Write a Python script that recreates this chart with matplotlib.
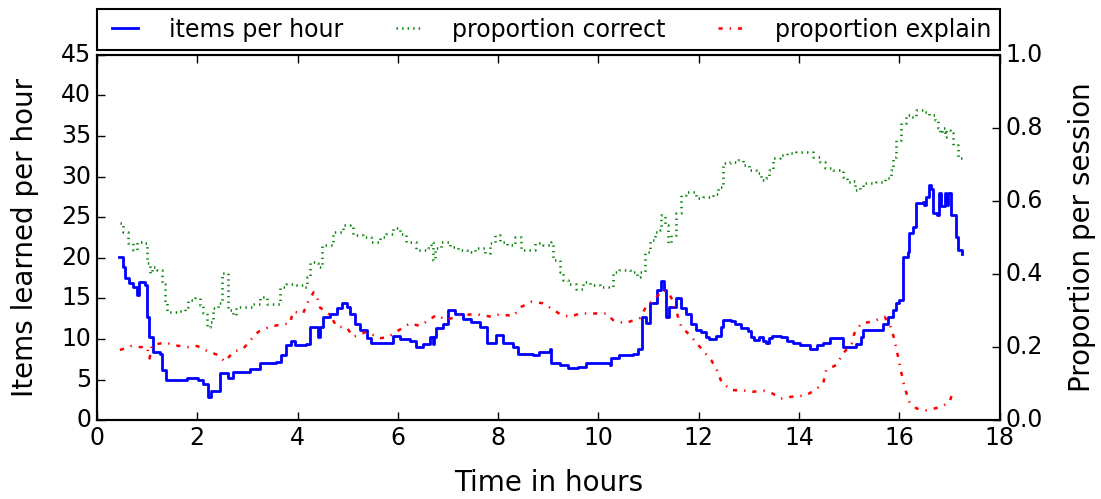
import matplotlib
matplotlib.use("Agg")
import matplotlib.pyplot as plt

# items learned per hour (left axis)
items_t = [0.44, 0.52, 0.56, 0.64, 0.72, 0.80, 0.84, 0.96, 0.99, 1.04, 1.12, 1.26, 1.29, 1.375,
           1.79, 2.02, 2.12, 2.22, 2.28, 2.42, 2.45, 2.62, 2.72, 3.05, 3.25, 3.58, 3.68, 3.78,
           3.88, 3.94, 4.17, 4.25, 4.41, 4.45, 4.51, 4.65, 4.78, 4.88, 4.98, 5.04, 5.14, 5.24,
           5.38, 5.47, 5.90, 6.04, 6.24, 6.37, 6.50, 6.64, 6.70, 6.73, 6.77, 6.90, 7.00, 7.14,
           7.30, 7.46, 7.63, 7.77, 7.96, 8.10, 8.30, 8.40, 8.70, 8.82, 9.03, 9.06, 9.23, 9.39,
           9.60, 9.76, 10.23, 10.26, 10.40, 10.69, 10.79, 10.86, 10.95, 11.02, 11.16, 11.25,
           11.30, 11.35, 11.41, 11.55, 11.65, 11.75, 11.85, 11.95, 12.05, 12.15, 12.20, 12.35,
           12.45, 12.48, 12.65, 12.72, 12.85, 12.98, 13.05, 13.11, 13.21, 13.28, 13.34, 13.40,
           13.47, 13.64, 13.75, 13.88, 14.01, 14.21, 14.35, 14.48, 14.61, 14.88, 15.14, 15.24,
           15.27, 15.67, 15.77, 15.87, 15.94, 16.00, 16.07, 16.17, 16.20, 16.27, 16.34, 16.47,
           16.50, 16.54, 16.59, 16.63, 16.67, 16.74, 16.79, 16.83, 16.90, 16.93, 16.96, 17.03,
           17.13, 17.17, 17.24]
items_v = [20.1, 18.9, 17.5, 16.9, 16.4, 15.4, 17.0, 16.6, 12.7, 10.3, 8.4, 8.2, 6.2, 4.9,
           5.2, 5.0, 4.5, 2.9, 3.6, 3.6, 5.8, 5.2, 5.9, 6.3, 7.0, 7.2, 8.0, 9.2,
           9.8, 9.3, 9.4, 11.5, 10.3, 11.5, 12.7, 13.1, 13.8, 14.4, 14.0, 13.1, 11.9, 11.1,
           10.1, 9.5, 10.4, 10.0, 9.7, 9.0, 9.4, 10.3, 9.4, 10.3, 11.3, 11.9, 13.6, 13.1,
           12.5, 12.1, 11.5, 9.5, 10.5, 9.5, 9.0, 8.2, 8.0, 8.4, 8.8, 7.0, 6.8, 6.4,
           6.5, 7.0, 6.8, 7.6, 8.0, 8.2, 8.8, 12.7, 12.0, 14.4, 16.0, 17.1,
           16.0, 12.7, 14.0, 15.0, 13.8, 13.1, 11.9, 11.1, 10.9, 10.3, 10.0, 10.4,
           11.5, 12.4, 12.2, 11.9, 11.3, 11.0, 10.3, 9.9, 10.3, 9.7, 9.5, 10.1,
           10.4, 10.3, 9.7, 9.5, 9.2, 8.8, 9.2, 9.5, 10.1, 9.0, 9.4, 10.3,
           11.1, 11.9, 12.7, 13.6, 14.4, 14.8, 20.1, 20.7, 23.0, 23.8, 26.7, 26.9,
           26.5, 27.5, 29.0, 28.5, 25.5, 25.3, 28.0, 26.4, 28.0, 26.5, 28.0, 25.3,
           22.6, 21.0, 20.5]

# proportion correct (right axis)
correct_t = [0.46, 0.52, 0.62, 0.72, 0.79, 0.90, 0.99, 1.06, 1.10, 1.20, 1.29, 1.36, 1.39, 1.59,
             1.75, 1.82, 1.96, 2.05, 2.12, 2.19, 2.25, 2.32, 2.42, 2.49, 2.62, 2.72, 2.78, 3.10,
             3.25, 3.39, 3.65, 3.78, 3.92, 4.11, 4.18, 4.25, 4.34, 4.41, 4.48, 4.58, 4.71, 4.91,
             5.04, 5.11, 5.31, 5.47, 5.64, 5.77, 5.91, 6.04, 6.17, 6.37, 6.60, 6.67, 6.71, 6.74,
             6.87, 7.04, 7.20, 7.37, 7.54, 7.73, 7.83, 7.93, 8.03, 8.17, 8.33, 8.46, 8.73, 8.90,
             9.06, 9.09, 9.23, 9.29, 9.39, 9.56, 9.69, 9.83, 10.03, 10.29, 10.40, 10.63, 10.76,
             10.82, 10.92, 11.02, 11.12, 11.22, 11.25, 11.32, 11.39, 11.45, 11.55, 11.65, 11.75,
             11.95, 12.09, 12.28, 12.38, 12.48, 12.62, 12.78, 12.88, 13.01, 13.14, 13.25, 13.34,
             13.41, 13.48, 13.61, 13.75, 13.94, 14.14, 14.28, 14.41, 14.51, 14.68, 14.88, 14.95,
             15.05, 15.12, 15.22, 15.27, 15.54, 15.71, 15.83, 15.87, 15.94, 16.04, 16.14, 16.24,
             16.34, 16.47, 16.60, 16.70, 16.77, 16.81, 16.84, 16.90, 16.93, 17.00, 17.07, 17.17,
             17.24]
correct_v = [0.539, 0.516, 0.484, 0.466, 0.489, 0.484, 0.429, 0.402, 0.420, 0.410, 0.374, 0.320, 0.297, 0.300,
             0.310, 0.329, 0.334, 0.315, 0.292, 0.256, 0.270, 0.306, 0.320, 0.402, 0.301, 0.288, 0.310, 0.319,
             0.338, 0.319, 0.365, 0.374, 0.370, 0.365, 0.393, 0.434, 0.430, 0.420, 0.479, 0.480, 0.516, 0.534,
             0.530, 0.507, 0.502, 0.489, 0.502, 0.511, 0.525, 0.511, 0.489, 0.466, 0.470, 0.489, 0.438, 0.470,
             0.489, 0.475, 0.466, 0.461, 0.470, 0.457, 0.484, 0.507, 0.489, 0.480, 0.502, 0.466, 0.484, 0.480,
             0.489, 0.438, 0.406, 0.384, 0.374, 0.360, 0.379, 0.370, 0.365, 0.406, 0.411, 0.406, 0.393,
             0.406, 0.461, 0.493, 0.516, 0.520, 0.562, 0.534, 0.484, 0.507, 0.566, 0.616, 0.626,
             0.607, 0.610, 0.620, 0.639, 0.703, 0.708, 0.712, 0.699, 0.685, 0.676, 0.657, 0.662,
             0.685, 0.717, 0.726, 0.731, 0.735, 0.733, 0.721, 0.708, 0.689, 0.685, 0.667, 0.653,
             0.655, 0.630, 0.639, 0.648, 0.653, 0.662, 0.685, 0.721, 0.767, 0.813, 0.836, 0.831,
             0.849, 0.845, 0.836, 0.822, 0.799, 0.785, 0.800, 0.776, 0.794, 0.785, 0.753, 0.717,
             0.726]

# proportion explain (right axis)
explain_t = [0.46, 0.69, 0.86, 1.00, 1.05, 1.10, 1.36, 1.55, 1.80, 2.00, 2.15, 2.42, 2.55, 2.72,
             2.92, 3.12, 3.22, 3.45, 3.68, 3.85, 3.91, 4.11, 4.21, 4.32, 4.38, 4.45, 4.65, 4.78,
             4.98, 5.11, 5.38, 5.64, 5.81, 6.04, 6.24, 6.44, 6.77, 6.97, 7.24, 7.57, 7.87, 8.03,
             8.30, 8.46, 8.66, 8.90, 9.26, 9.43, 9.63, 9.86, 10.16, 10.29, 10.52, 10.82, 10.95,
             11.16, 11.29, 11.39, 11.49, 11.65, 11.82, 12.05, 12.25, 12.38, 12.45, 12.65, 12.85,
             13.08, 13.31, 13.47, 13.64, 13.84, 14.14, 14.31, 14.48, 14.54, 14.74, 14.88, 15.05,
             15.10, 15.24, 15.47, 15.70, 15.80, 15.87, 15.94, 16.00, 16.10, 16.20, 16.34, 16.54,
             16.70, 16.84, 17.00, 17.07]
explain_v = [0.192, 0.203, 0.200, 0.200, 0.169, 0.205, 0.213, 0.205, 0.200, 0.203, 0.192, 0.178, 0.160, 0.187,
             0.196, 0.228, 0.242, 0.256, 0.262, 0.265, 0.297, 0.292, 0.324, 0.350, 0.342, 0.308, 0.288, 0.256,
             0.254, 0.228, 0.242, 0.224, 0.228, 0.248, 0.265, 0.258, 0.288, 0.274, 0.288, 0.290, 0.283, 0.290,
             0.285, 0.310, 0.324, 0.320, 0.288, 0.283, 0.292, 0.292, 0.292, 0.274, 0.265, 0.279, 0.310,
             0.338, 0.356, 0.352, 0.324, 0.256, 0.233, 0.196, 0.164, 0.132, 0.105, 0.082, 0.082,
             0.078, 0.080, 0.073, 0.059, 0.064, 0.068, 0.082, 0.100, 0.137, 0.151, 0.183, 0.210,
             0.237, 0.265, 0.270, 0.283, 0.265, 0.237, 0.196, 0.155, 0.091, 0.050, 0.032, 0.027,
             0.032, 0.037, 0.050, 0.078]

plt.style.use("classic")
plt.rcParams["figure.facecolor"] = "white"
plt.rcParams["savefig.facecolor"] = "white"
plt.rcParams["font.family"] = ["DejaVu Sans"]

fig = plt.figure(figsize=(11.01, 4.99), dpi=100)
ax = fig.add_axes([0.088, 0.158, 0.820, 0.732])
ax2 = ax.twinx()

l1, = ax.plot(items_t, items_v, color="blue", lw=2, drawstyle="steps-post",
              label="items per hour")
l2, = ax2.plot(correct_t, correct_v, color="green", lw=1.8, ls=":", drawstyle="steps-post",
               label="proportion correct")
l3, = ax2.plot(explain_t, explain_v, color="red", lw=1.8, ls="-.",
               label="proportion explain")

ax.set_xlim(0, 18)
ax.set_ylim(0, 45)
ax2.set_ylim(0, 1.0)
ax.set_xticks(range(0, 19, 2))
ax.set_yticks(range(0, 46, 5))
ax2.set_yticks([0.0, 0.2, 0.4, 0.6, 0.8, 1.0])

ax.tick_params(axis="y", right=False, labelsize=17, length=6, width=1)
ax.tick_params(axis="x", top=True, labelsize=17, length=6, width=1)
ax2.tick_params(axis="y", left=False, labelsize=17, length=6, width=1)
for a in (ax, ax2):
    for s in a.spines.values():
        s.set_linewidth(1.5)

ax.set_xlabel("Time in hours", fontsize=20, labelpad=14)
ax.set_ylabel("Items learned per hour", fontsize=20, labelpad=16)
ax2.set_ylabel("Proportion per session", fontsize=20, labelpad=18)

leg = ax.legend(handles=[l1, l2, l3], loc="lower left", bbox_to_anchor=(0.0, 1.014, 1.0, 0.1),
                mode="expand", ncol=3, borderaxespad=0.0, fontsize=17, frameon=True,
                handlelength=1.7, handletextpad=1.0, numpoints=2, borderpad=0.35)
leg.get_frame().set_linewidth(1.5)

fig.savefig("out.png", dpi=100)
